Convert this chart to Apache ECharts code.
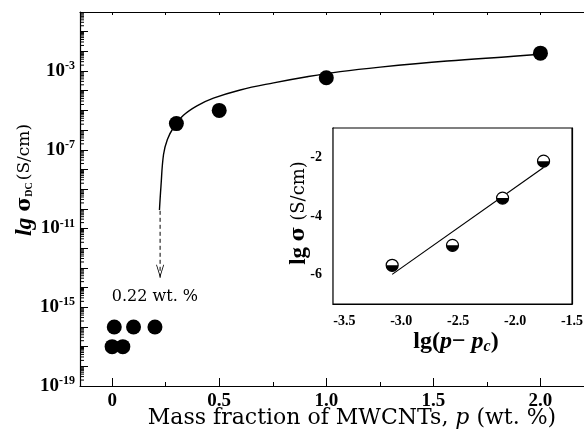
<!DOCTYPE html>
<html>
<head>
<meta charset="utf-8">
<script src="https://cdn.jsdelivr.net/npm/echarts@6/dist/echarts.min.js"></script>
<style>
  html, body { margin: 0; padding: 0; background: #fff; }
  #main { width: 584px; height: 443px; }
</style>
</head>
<body>
<div id="main"></div>
<script>
// main plot: p (wt. %) vs lg sigma_DC
var lowP = [0, 0.01, 0.05, 0.1, 0.2];
var lowLg = [-17, -16, -17, -16, -16];
var highP = [0.3, 0.5, 1.0, 2.0];
var highLg = [-5.67, -5.0, -3.34, -2.09];

// fitted curve
var fitP = [0.221, 0.228, 0.240, 0.258, 0.286, 0.333, 0.396, 0.473, 0.598, 0.754, 0.910, 1.065, 1.252, 1.564, 1.875, 2.015];
var fitLg = [-10.06, -8.86, -7.24, -6.48, -5.88, -5.25, -4.77, -4.38, -3.96, -3.60, -3.29, -3.03, -2.80, -2.49, -2.25, -2.13];

// threshold arrow + label
var arrowP = [0.224, 0.224];
var arrowLg = [-10.1, -13.5];
var noteAt = [0.2, -14.45];
var noteText = '0.22 wt. %';

// inset: lg(p - pc) vs lg sigma
var insX = [-3.08, -2.55, -2.11, -1.75];
var insY = [-5.68, -5.0, -3.39, -2.13];
var insFitX = [-3.08, -1.75];
var insFitY = [-5.99, -2.35];

var xMin = -0.15, xMax = 2.25;
var yMin = -19, yMax = 0;

function pairs(a, b) {
  return a.map(function (v, i) { return [v, b[i]]; });
}

// log minor ticks (2..9 inside each decade)
var logTicks = [];
for (var n = yMin; n < yMax; n++) {
  for (var k = 2; k <= 9; k++) logTicks.push([xMin, n + Math.log10(k)]);
}

var serif = 'Liberation Serif';
var wide = 'DejaVu Serif';

// lower half of a disc, drawn with bezier curves
var halfPath = 'path://M0,0 C0,2.76 2.24,5 5,5 C7.76,5 10,2.76 10,0 Z';
var chevron = 'path://M0,0 L5,12 L10,0 L9,0 L5,9.5 L1,0 Z';

var tickBase = { show: true, inside: true, length: 8, lineStyle: { color: '#000', width: 1 } };
var lineBase = { show: true, onZero: false, lineStyle: { color: '#000', width: 1.2 } };

var option = {
  animation: false,
  backgroundColor: '#fff',
  grid: [
    { left: 80, top: 12, right: -10, bottom: 57, outerBoundsMode: 'none' },
    { left: 333, top: 128, width: 239, height: 176, show: true, backgroundColor: '#fff',
      borderColor: '#000', borderWidth: 1.2, outerBoundsMode: 'none', z: 5 }
  ],
  xAxis: [
    {
      type: 'value', gridIndex: 0, min: xMin, max: xMax, splitNumber: 5,
      axisLine: lineBase, axisTick: tickBase,
      minorTick: { show: true, splitNumber: 2, length: 4, lineStyle: { color: '#000' } },
      splitLine: { show: false },
      axisLabel: {
        margin: 6, color: '#000', fontFamily: serif, fontWeight: 'bold', fontSize: 19,
        formatter: function (v) {
          if (Math.abs(v * 2 - Math.round(v * 2)) > 1e-6) return '';
          return v === 0 ? '0' : v.toFixed(1);
        }
      }
    },
    {
      type: 'value', gridIndex: 0, position: 'top', min: xMin, max: xMax, splitNumber: 5,
      axisLine: lineBase,
      axisTick: { show: true, inside: true, length: 3, lineStyle: { color: '#000' } },
      minorTick: { show: true, splitNumber: 2, length: 3, lineStyle: { color: '#000' } },
      splitLine: { show: false }, axisLabel: { show: false }
    },
    {
      type: 'value', gridIndex: 1, min: -3.6, max: -1.5, splitNumber: 4,
      axisLine: lineBase,
      axisTick: { show: true, inside: true, length: 5, lineStyle: { color: '#000' } },
      minorTick: { show: true, splitNumber: 2, length: 3, lineStyle: { color: '#000' } },
      splitLine: { show: false },
      axisLabel: {
        margin: 10, color: '#000', fontFamily: serif, fontWeight: 'bold', fontSize: 14,
        formatter: function (v) {
          if (Math.abs(v * 2 - Math.round(v * 2)) > 1e-6) return '';
          return v.toFixed(1);
        }
      }
    },
    {
      type: 'value', gridIndex: 1, position: 'top', min: -3.6, max: -1.5, splitNumber: 4,
      axisLine: lineBase,
      axisTick: { show: true, inside: true, length: 3, lineStyle: { color: '#000' } },
      minorTick: { show: true, splitNumber: 2, length: 2, lineStyle: { color: '#000' } },
      splitLine: { show: false }, axisLabel: { show: false }
    }
  ],
  yAxis: [
    {
      type: 'value', gridIndex: 0, min: yMin, max: yMax, interval: 1,
      axisLine: lineBase, axisTick: tickBase, splitLine: { show: false },
      axisLabel: {
        margin: 5, color: '#000', showMaxLabel: false,
        formatter: function (v) {
          if ((v - yMin) % 4 !== 0) return '';
          return '{b|10}{s|' + v + '}';
        },
        rich: {
          b: { fontFamily: serif, fontWeight: 'bold', fontSize: 19, color: '#000' },
          s: { fontFamily: serif, fontWeight: 'bold', fontSize: 12, color: '#000', padding: [0, 0, 10, 0] }
        }
      }
    },
    {
      type: 'value', gridIndex: 1, min: -7, max: -1, splitNumber: 3,
      axisLine: lineBase,
      axisTick: { show: true, inside: true, length: 5, lineStyle: { color: '#000' } },
      minorTick: { show: true, splitNumber: 2, length: 3, lineStyle: { color: '#000' } },
      splitLine: { show: false },
      axisLabel: {
        margin: 11, color: '#000', fontFamily: serif, fontWeight: 'bold', fontSize: 14,
        formatter: function (v) { return v % 2 === 0 && v > -7 && v < -1 ? String(v) : ''; }
      }
    },
    {
      type: 'value', gridIndex: 1, position: 'right', min: -7, max: -1, splitNumber: 3,
      axisLine: lineBase,
      axisTick: { show: true, inside: true, length: 4, lineStyle: { color: '#000' } },
      minorTick: { show: true, splitNumber: 2, length: 2, lineStyle: { color: '#000' } },
      splitLine: { show: false }, axisLabel: { show: false }
    }
  ],
  graphic: [
    {
      type: 'text', x: 352, y: 418, z: 10,
      style: {
        text: '{r|Mass fraction of MWCNTs, }{i|p}{r| (wt. %)}',
        align: 'center', verticalAlign: 'middle',
        rich: {
          r: { fontFamily: wide, fontSize: 22, fill: '#000' },
          i: { fontFamily: wide, fontStyle: 'italic', fontSize: 22, fill: '#000' }
        }
      }
    },
    {
      type: 'text', x: 25, y: 180, rotation: Math.PI / 2, z: 10,
      style: {
        text: '{i|lg }{s|σ}{sub|DC}{r|(S/cm)}',
        align: 'center', verticalAlign: 'middle',
        rich: {
          i: { fontFamily: serif, fontWeight: 'bold', fontStyle: 'italic', fontSize: 24, fill: '#000' },
          s: { fontFamily: wide, fontWeight: 'bold', fontSize: 20, fill: '#000' },
          sub: { fontFamily: serif, fontWeight: 'bold', fontSize: 10, fill: '#000', padding: [8, 2, 0, 0] },
          r: { fontFamily: wide, fontSize: 17, fill: '#000' }
        }
      }
    },
    {
      type: 'text', x: 299, y: 213, rotation: Math.PI / 2, z: 10,
      style: {
        text: '{b|lg }{s|σ}{r| (S/cm)}',
        align: 'center', verticalAlign: 'middle',
        rich: {
          b: { fontFamily: serif, fontWeight: 'bold', fontSize: 23, fill: '#000' },
          s: { fontFamily: wide, fontWeight: 'bold', fontSize: 20, fill: '#000' },
          r: { fontFamily: wide, fontSize: 18, fill: '#000' }
        }
      }
    },
    {
      type: 'text', x: 456, y: 342, z: 10,
      style: {
        text: '{b|lg(}{i|p}{b|− }{i|p}{sub|c}{b|)}',
        align: 'center', verticalAlign: 'middle',
        rich: {
          b: { fontFamily: serif, fontWeight: 'bold', fontSize: 24, fill: '#000' },
          i: { fontFamily: serif, fontWeight: 'bold', fontStyle: 'italic', fontSize: 24, fill: '#000' },
          sub: { fontFamily: serif, fontWeight: 'bold', fontStyle: 'italic', fontSize: 16, fill: '#000', padding: [9, 0, 0, 0] }
        }
      }
    }
  ],
  series: [
    {
      name: 'fit', type: 'line', xAxisIndex: 0, yAxisIndex: 0,
      data: pairs(fitP, fitLg), smooth: 0.4, showSymbol: false, symbol: 'none',
      lineStyle: { color: '#000', width: 1.4 }, z: 2
    },
    {
      name: 'threshold', type: 'line', xAxisIndex: 0, yAxisIndex: 0,
      data: pairs(arrowP, arrowLg).map(function (d, i) {
        return i === 0 ? { value: d, symbol: 'none' } : { value: d, symbol: chevron };
      }),
      symbolSize: [8, 13], symbolOffset: [0, '-50%'],
      itemStyle: { color: '#000', opacity: 1 },
      lineStyle: { color: '#000', width: 1, type: [4, 3] }, z: 2,
      markPoint: {
        symbol: 'circle', symbolSize: 0,
        data: [{ coord: noteAt, value: noteText }],
        label: {
          show: true, position: 'inside', formatter: noteText,
          fontFamily: wide, fontSize: 16, color: '#000'
        }
      }
    },
    {
      name: 'low', type: 'scatter', xAxisIndex: 0, yAxisIndex: 0,
      data: pairs(lowP, lowLg), symbol: 'circle', symbolSize: 15,
      itemStyle: { color: '#000', opacity: 1 }, z: 3
    },
    {
      name: 'high', type: 'scatter', xAxisIndex: 0, yAxisIndex: 0,
      data: pairs(highP, highLg), symbol: 'circle', symbolSize: 15,
      itemStyle: { color: '#000', opacity: 1 }, z: 3
    },
    {
      name: 'logTicks', type: 'custom', xAxisIndex: 0, yAxisIndex: 0, silent: true,
      data: logTicks, z: 4,
      renderItem: function (params, api) {
        var p = api.coord([api.value(0), api.value(1)]);
        return {
          type: 'line',
          shape: { x1: p[0], y1: p[1], x2: p[0] + 4, y2: p[1] },
          style: { stroke: '#000', lineWidth: 1 }
        };
      }
    },
    {
      name: 'insFit', type: 'line', xAxisIndex: 2, yAxisIndex: 1,
      data: pairs(insFitX, insFitY), symbol: 'none',
      lineStyle: { color: '#000', width: 1.2 }, z: 6
    },
    {
      name: 'insOpen', type: 'scatter', xAxisIndex: 2, yAxisIndex: 1,
      data: pairs(insX, insY), symbol: 'circle', symbolSize: 12,
      itemStyle: { color: '#fff', borderColor: '#000', borderWidth: 1.2, opacity: 1 }, z: 7
    },
    {
      name: 'insHalf', type: 'scatter', xAxisIndex: 2, yAxisIndex: 1,
      data: pairs(insX, insY), symbol: halfPath, symbolKeepAspect: false,
      symbolSize: [12, 6], symbolOffset: [0, 3],
      itemStyle: { color: '#000', opacity: 1 }, z: 8
    }
  ]
};

var chart = echarts.init(document.getElementById('main'));
chart.setOption(option);
</script>
</body>
</html>
